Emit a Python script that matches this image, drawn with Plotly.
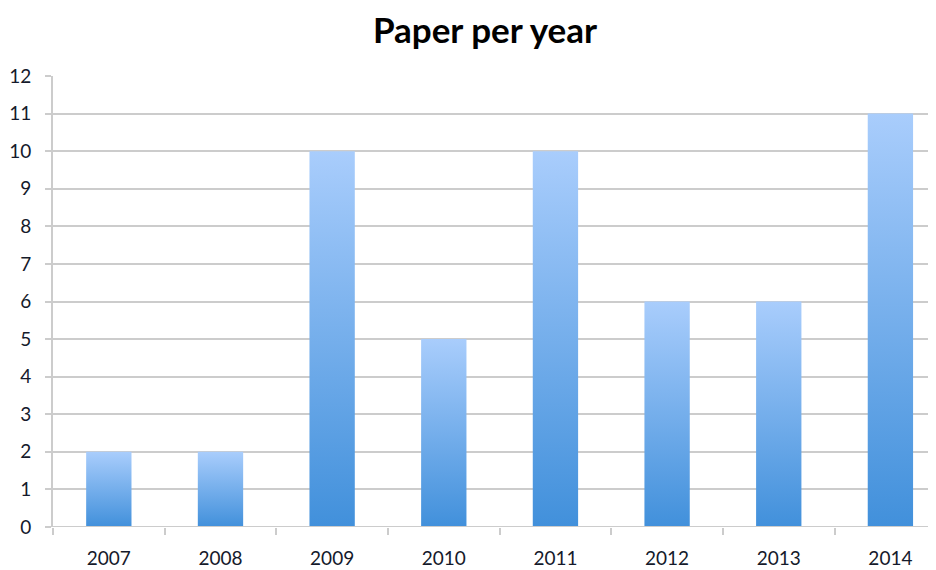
import plotly.graph_objects as go

years = ["2007", "2008", "2009", "2010", "2011", "2012", "2013", "2014"]
papers = [2, 2, 10, 5, 10, 6, 6, 11]
y_ticks = list(range(0, 13))

BAR_HALF = 0.203
FONT = "Lato, Open Sans, sans-serif"
TICK_COLOR = "#151a2b"

fig = go.Figure()
for i, (yr, v) in enumerate(zip(years, papers)):
    fig.add_trace(go.Scatter(
        x=[i - BAR_HALF, i - BAR_HALF, i + BAR_HALF, i + BAR_HALF, i - BAR_HALF],
        y=[0, v, v, 0, 0],
        mode="lines",
        line=dict(width=0, color="rgba(0,0,0,0)"),
        fill="toself",
        fillgradient=dict(
            type="vertical",
            start=0,
            stop=v,
            colorscale=[[0, "#4190db"], [1, "#a9cdfc"]],
        ),
        name=yr,
        showlegend=False,
        hoverinfo="skip",
    ))

fig.update_layout(
    width=936,
    height=570,
    margin=dict(l=45, r=0, t=68, b=51),
    paper_bgcolor="white",
    plot_bgcolor="white",
    title=dict(
        text="<b>Paper per year</b>",
        x=477 / 936,
        xanchor="center",
        y=1 - 23 / 570,
        yanchor="middle",
        font=dict(family=FONT, size=35, color="black"),
    ),
    xaxis=dict(
        range=[-0.5, 7.48],
        tickmode="array",
        tickvals=list(range(len(years))),
        ticktext=years,
        showgrid=False,
        zeroline=False,
        showline=False,
        ticks="",
        tickfont=dict(family=FONT, size=19, color=TICK_COLOR),
        ticklabelstandoff=18,
        fixedrange=True,
    ),
    yaxis=dict(
        range=[0, 12],
        tickmode="array",
        tickvals=y_ticks,
        showgrid=True,
        gridcolor="#cccccc",
        gridwidth=2,
        zeroline=False,
        showline=True,
        linecolor="#cccccc",
        linewidth=2,
        ticks="outside",
        ticklen=6,
        tickwidth=2,
        tickcolor="#cccccc",
        tickfont=dict(family=FONT, size=19, color=TICK_COLOR),
        ticklabelstandoff=10,
        fixedrange=True,
    ),
)

# category separator ticks on the x axis
fig.update_xaxes(
    minor=dict(
        tickmode="array",
        tickvals=[i - 0.5 for i in range(len(years) + 1)],
        ticks="outside",
        ticklen=7,
        tickwidth=2,
        tickcolor="#cccccc",
        showgrid=False,
    )
)
# bottom baseline
fig.add_hline(y=0, line=dict(color="#cccccc", width=2), layer="above")

fig.write_html("out.html")
